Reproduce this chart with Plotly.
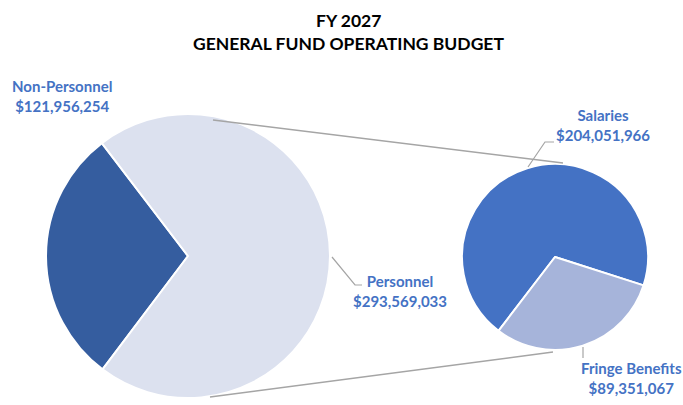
import plotly.graph_objects as go

W, H = 683, 405

# Data
main_labels = ["Non-Personnel", "Personnel"]
main_values = [121956254, 293569033]
sub_labels = ["Salaries", "Fringe Benefits"]
sub_values = [204051966, 89351067]
title_lines = ["FY 2027", "GENERAL FUND OPERATING BUDGET"]

main_colors = ["#355D9F", "#DCE1EF"]
sub_colors = ["#4472C4", "#A6B4DA"]
label_color = "#4472C4"
line_color = "#A5A5A5"
FONT = "Lato"

def px(x, y):
    return x / W, 1 - y / H

def dom(cx, cy, r):
    return dict(x=[(cx - r) / W, (cx + r) / W], y=[1 - (cy + r) / H, 1 - (cy - r) / H])

fig = go.Figure()
fig.add_trace(go.Pie(
    labels=main_labels, values=main_values, sort=False, direction="clockwise",
    rotation=217, textinfo="none", hoverinfo="label+value",
    marker=dict(colors=main_colors, line=dict(color="white", width=2)),
    domain=dom(188, 256, 142), showlegend=False,
))
fig.add_trace(go.Pie(
    labels=sub_labels, values=sub_values, sort=False, direction="clockwise",
    rotation=217.4, textinfo="none", hoverinfo="label+value",
    marker=dict(colors=sub_colors, line=dict(color="white", width=2)),
    domain=dom(555, 257, 93), showlegend=False,
))

def fmt(v):
    return "$" + f"{v:,}"

annots = []
for txt, yy in zip(title_lines, [20, 43]):
    annots.append(dict(text="<b>" + txt + "</b>", x=px(348, 0)[0], y=px(0, yy)[1], xref="paper", yref="paper",
                       xanchor="center", yanchor="middle",
                       showarrow=False, font=dict(family=FONT, size=17.5, color="black")))

label_pos = {
    "Non-Personnel": (62, 96),
    "Personnel": (400, 291),
    "Salaries": (603, 125),
    "Fringe Benefits": (631, 378),
}
for lab, val in zip(main_labels + sub_labels, main_values + sub_values):
    x, y = label_pos[lab]
    xp, yp = px(x, y)
    annots.append(dict(text=f"<b>{lab}<br>{fmt(val)}</b>", x=xp, y=yp, xref="paper", yref="paper",
                       xanchor="center", yanchor="middle",
                       showarrow=False, align="center",
                       font=dict(family=FONT, size=15, color=label_color)))

def path(points):
    s = ""
    for i, (x, y) in enumerate(points):
        xp, yp = px(x, y)
        s += ("M" if i == 0 else "L") + f"{xp},{yp} "
    return s.strip()

shapes = []
for pts, w in [
    ([(213, 120), (563, 163)], 1.5),
    ([(210, 397), (553, 352)], 1.5),
    ([(332, 257), (355, 285), (362, 285)], 1.2),
    ([(528, 167), (545, 142), (554, 142)], 1.2),
    ([(583, 347), (583, 358)], 1.2),
]:
    shapes.append(dict(type="path", path=path(pts), xref="paper", yref="paper",
                       line=dict(color=line_color, width=w)))

fig.update_layout(
    width=W, height=H, margin=dict(l=0, r=0, t=0, b=0),
    paper_bgcolor="white", plot_bgcolor="white",
    annotations=annots, shapes=shapes,
)
fig.write_html("out.html", config={"displayModeBar": False},
               post_script="document.body.style.margin='0';")
